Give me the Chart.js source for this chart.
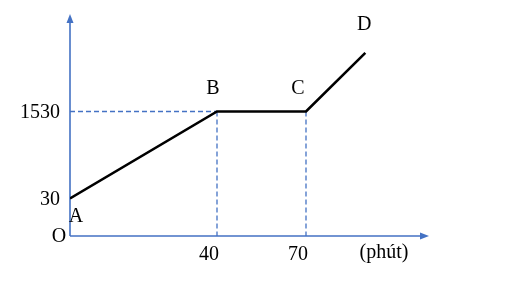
<!DOCTYPE html>
<html>
<head>
<meta charset="utf-8">
<script src="https://cdn.jsdelivr.net/npm/chart.js@4.4.0/dist/chart.umd.min.js"></script>
<style>
  html, body { margin: 0; padding: 0; background: #fff; }
  canvas { display: block; }
</style>
</head>
<body>
<canvas id="chart" width="529" height="288"></canvas>
<script>
// points of the graph: time (minutes) and value
const pointNames = ['A', 'B', 'C', 'D'];
const minutes = [0, 40, 70, 90];
const values = [30, 1530, 1530, 2540];
const xTicks = [40, 70];
const yTicks = [30, 1530];

// the sketch is not to scale, so each axis is stretched piece by piece
// [value, pixels from the axis start]
const xKnots = [[0, 0], [40, 147], [70, 236]];
const yKnots = [[0, 0], [30, 37.5], [1530, 124.5]];

const blue = '#4472C4';
const font = { family: 'Liberation Serif', size: 20 };
const labelOffsets = [[6, 18], [-4, -23], [-8, -23], [-1, -28]];

function knotOffset(knots, v) {
  let i = 1;
  while (i < knots.length - 1 && v > knots[i][0]) i++;
  const a = knots[i - 1], b = knots[i];
  return a[1] + (v - a[0]) * (b[1] - a[1]) / (b[0] - a[0]);
}
function knotValue(knots, off) {
  let i = 1;
  while (i < knots.length - 1 && off > knots[i][1]) i++;
  const a = knots[i - 1], b = knots[i];
  return a[0] + (off - a[1]) * (b[0] - a[0]) / (b[1] - a[1]);
}

class PiecewiseScale extends Chart.LinearScale {
  getPixelForValue(value) {
    const knots = this.axis === 'x' ? xKnots : yKnots;
    const off = knotOffset(knots, value);
    return this.isHorizontal() ? this.left + off : this.bottom - off;
  }
  getValueForPixel(pixel) {
    const knots = this.axis === 'x' ? xKnots : yKnots;
    const off = this.isHorizontal() ? pixel - this.left : this.bottom - pixel;
    return knotValue(knots, off);
  }
}
PiecewiseScale.id = 'piecewise';
PiecewiseScale.defaults = Chart.LinearScale.defaults;
Chart.register(PiecewiseScale);

function arrow(ctx, x, y, dir) {
  ctx.beginPath();
  if (dir === 'up') {
    ctx.moveTo(x, y); ctx.lineTo(x - 3.5, y + 9); ctx.lineTo(x + 3.5, y + 9);
  } else {
    ctx.moveTo(x, y); ctx.lineTo(x - 9, y - 3.5); ctx.lineTo(x - 9, y + 3.5);
  }
  ctx.closePath();
  ctx.fill();
}

const sketchPlugin = {
  id: 'sketch',
  beforeDatasetsDraw(chart) {
    const { ctx, chartArea: a } = chart;
    const pts = chart.getDatasetMeta(0).data;
    const x0 = a.left, y0 = a.bottom;
    ctx.save();
    ctx.strokeStyle = blue;
    ctx.fillStyle = blue;
    // dashed guides to B and C
    ctx.setLineDash([5, 3]);
    ctx.lineWidth = 1.3;
    ctx.beginPath();
    ctx.moveTo(x0, pts[1].y); ctx.lineTo(pts[1].x, pts[1].y);
    ctx.moveTo(pts[1].x, pts[1].y); ctx.lineTo(pts[1].x, y0);
    ctx.moveTo(pts[2].x, pts[2].y); ctx.lineTo(pts[2].x, y0);
    ctx.stroke();
    // axes
    ctx.setLineDash([]);
    ctx.lineWidth = 1.6;
    ctx.beginPath();
    ctx.moveTo(x0, y0); ctx.lineTo(a.right - 6, y0);
    ctx.moveTo(x0, y0); ctx.lineTo(x0, a.top + 6);
    ctx.stroke();
    arrow(ctx, x0, a.top, 'up');
    arrow(ctx, a.right, y0, 'right');
    ctx.restore();
  },
  afterDatasetsDraw(chart) {
    const { ctx, chartArea: a } = chart;
    const pts = chart.getDatasetMeta(0).data;
    ctx.save();
    ctx.fillStyle = '#000';
    ctx.font = font.size + 'px "' + font.family + '"';
    ctx.textAlign = 'center';
    ctx.textBaseline = 'middle';
    pts.forEach((p, i) => {
      ctx.fillText(pointNames[i], p.x + labelOffsets[i][0], p.y + labelOffsets[i][1]);
    });
    ctx.fillText('O', a.left - 11, a.bottom + 1);
    ctx.fillText('(phút)', 384, a.bottom + 17);
    ctx.restore();
  }
};

new Chart(document.getElementById('chart'), {
  type: 'line',
  data: {
    datasets: [{
      data: minutes.map((m, i) => ({ x: m, y: values[i] })),
      borderColor: '#000',
      borderWidth: 2.6,
      pointRadius: 0,
      tension: 0,
      fill: false
    }]
  },
  options: {
    responsive: false,
    animation: false,
    layout: { padding: { left: 0, right: 100, top: 14, bottom: 0 } },
    plugins: { legend: { display: false }, tooltip: { enabled: false } },
    scales: {
      x: {
        type: 'piecewise',
        min: 0,
        max: 120,
        grid: { display: false, drawTicks: false },
        border: { display: false },
        afterBuildTicks: s => { s.ticks = xTicks.map(v => ({ value: v })); },
        afterFit: s => { s.height = 52; s.paddingLeft = 0; s.paddingRight = 0; },
        ticks: { autoSkip: false, maxRotation: 0, padding: 7, labelOffset: -8, color: '#000', font: font, callback: v => String(v) }
      },
      y: {
        type: 'piecewise',
        min: 0,
        max: 4000,
        grid: { display: false, drawTicks: false },
        border: { display: false },
        afterBuildTicks: s => { s.ticks = yTicks.map(v => ({ value: v })); },
        afterFit: s => { s.width = 70; s.paddingTop = 0; s.paddingBottom = 0; },
        ticks: { autoSkip: false, padding: 10, labelOffset: 1, color: '#000', font: font, callback: v => String(v) }
      }
    }
  },
  plugins: [sketchPlugin]
});
</script>
</body>
</html>
